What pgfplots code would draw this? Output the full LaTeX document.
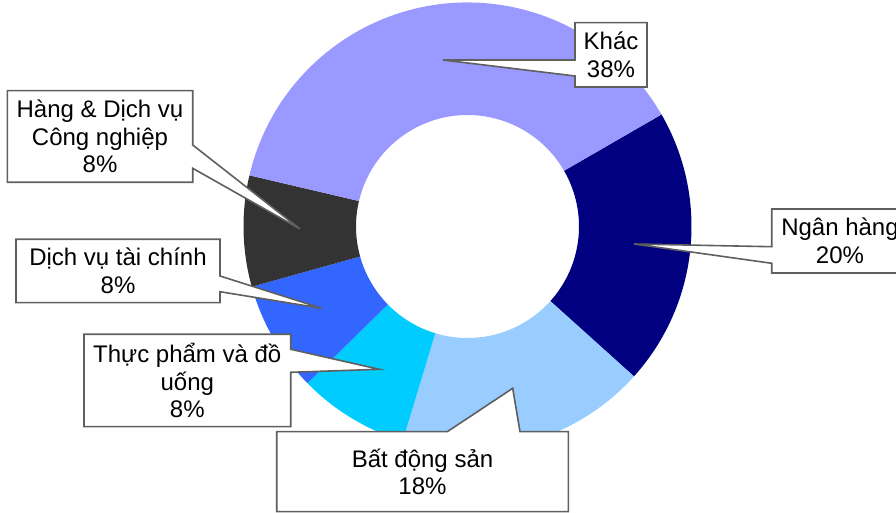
\documentclass[border=0pt]{standalone}
\usepackage{fontspec}
\setmainfont{Liberation Sans}
\usepackage{pgfplots}
\pgfplotsset{compat=1.18}
\definecolor{cKhac}{HTML}{9999FF}
\definecolor{cNgan}{HTML}{000080}
\definecolor{cBDS}{HTML}{99CCFF}
\definecolor{cTP}{HTML}{00CCFF}
\definecolor{cDVTC}{HTML}{3366FF}
\definecolor{cHang}{HTML}{333333}
\definecolor{bordergray}{RGB}{95,95,95}
% #1 cumulative start (%), #2 share (%), #3 colour
\newcommand{\donutslice}[3]{%
  \fill[#3] (axis cs:467.5,286.5) ++({30-3.6*(#1)}:224pt)
    arc[start angle={30-3.6*(#1)}, delta angle={-3.6*(#2)}, radius=224pt]
    -- ++({30-3.6*((#1)+(#2))}:-112.5pt)
    arc[start angle={30-3.6*((#1)+(#2))}, delta angle={3.6*(#2)}, radius=111.5pt]
    -- cycle;}
\begin{document}
\begin{tikzpicture}
\begin{axis}[hide axis, scale only axis, width=896pt, height=513pt,
  xmin=0, xmax=896, ymin=0, ymax=513, clip=false]
\coordinate (bl) at (axis cs:0,0);
\coordinate (tr) at (axis cs:896,513);
% slices: Ngan hang 20, Bat dong san 18, Thuc pham 8, DV tai chinh 8, Hang & DV CN 8, Khac 38
\donutslice{0}{20}{cNgan}
\donutslice{20}{18}{cBDS}
\donutslice{38}{8}{cTP}
\donutslice{46}{8}{cDVTC}
\donutslice{54}{8}{cHang}
\donutslice{62}{38}{cKhac}
% callouts
\tikzset{co/.style={fill=white, draw=bordergray, line width=1.6pt, line join=miter},
  lb/.style={align=center, text=black, font=\fontsize{24}{27.5}\selectfont}}
\draw[co] (axis cs:575,490.3) -- (axis cs:647,490.3) -- (axis cs:647,426) -- (axis cs:575,426) -- (axis cs:575,437) -- (axis cs:443,453) -- (axis cs:575,453) -- cycle;
\node[lb] at (axis cs:611,458) {Khác\\38\%};
\draw[co] (axis cs:771.7,304) -- (axis cs:908,304) -- (axis cs:908,240) -- (axis cs:771.7,240) -- (axis cs:771.7,249.7) -- (axis cs:634,269) -- (axis cs:771.7,266.3) -- cycle;
\node[lb] at (axis cs:840,272) {Ngân hàng\\20\%};
\draw[co] (axis cs:276.7,81.3) -- (axis cs:447.3,81.3) -- (axis cs:512.7,124.7) -- (axis cs:520,81.3) -- (axis cs:568.3,81.3) -- (axis cs:568.3,1.3) -- (axis cs:276.7,1.3) -- cycle;
\node[lb] at (axis cs:422.5,41.3) {Bất động sản\\18\%};
\draw[co] (axis cs:84,178.7) -- (axis cs:290.7,178.7) -- (axis cs:290.7,163.7) -- (axis cs:379.3,143.7) -- (axis cs:290.7,140.7) -- (axis cs:290.7,86.3) -- (axis cs:84,86.3) -- cycle;
\node[lb] at (axis cs:187.3,132.5) {Thực phẩm và đồ\\uống\\8\%};
\draw[co] (axis cs:16,273.7) -- (axis cs:220,273.7) -- (axis cs:220,237) -- (axis cs:321.7,204.7) -- (axis cs:220,221.3) -- (axis cs:220,210.3) -- (axis cs:16,210.3) -- cycle;
\node[lb] at (axis cs:118,242) {Dịch vụ tài chính\\8\%};
\draw[co] (axis cs:7.3,422.3) -- (axis cs:192.7,422.3) -- (axis cs:192.7,368) -- (axis cs:300,284) -- (axis cs:192.7,344.7) -- (axis cs:192.7,330.7) -- (axis cs:7.3,330.7) -- cycle;
\node[lb] at (axis cs:100,376.5) {Hàng \& Dịch vụ\\Công nghiệp\\8\%};
\end{axis}
\pgfresetboundingbox
\useasboundingbox (bl) rectangle (tr);
\end{tikzpicture}
\end{document}
